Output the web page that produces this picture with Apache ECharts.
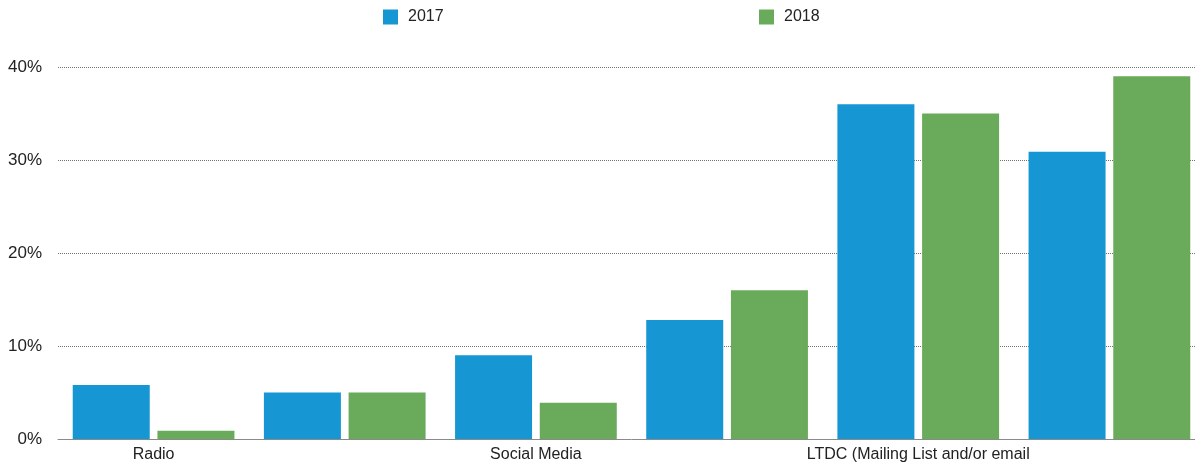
<!DOCTYPE html>
<html>
<head>
<meta charset="utf-8">
<script src="https://cdn.jsdelivr.net/npm/echarts@6/dist/echarts.min.js"></script>
<style>
  html, body { margin: 0; padding: 0; background: #ffffff; overflow: hidden; }
  /* the plot runs a little past the right edge of the window */
  #chart { width: 1205px; height: 467px; }
</style>
</head>
<body>
<div id="chart"></div>
<script>
// Channel labels along the x axis (only every other channel is labelled)
const categories = ['Radio', '', 'Social Media', '', 'LTDC (Mailing List and/or email', ''];
// Share of respondents per channel, in percent
const values2017 = [5.8, 5.0, 9.0, 12.8, 36.0, 30.9];
const values2018 = [0.9, 5.0, 3.9, 16.0, 35.0, 39.0];
const yTicks = { min: 0, max: 40, interval: 10 };

const FONT = '"Liberation Sans", Arial, Helvetica, sans-serif';
const BLUE = '#1796d4';
const GREEN = '#69ab5b';

const chart = echarts.init(document.getElementById('chart'), null, { renderer: 'canvas' });

const legendBase = {
  top: 9,
  padding: 0,
  icon: 'rect',
  itemWidth: 15,
  itemHeight: 15,
  textStyle: { fontFamily: FONT, fontSize: 16, color: '#222', padding: [0, 0, 0, 5] }
};

chart.setOption({
  animation: false,
  backgroundColor: '#ffffff',
  legend: [
    Object.assign({ left: 383, data: ['2017'] }, legendBase),
    Object.assign({ left: 759, data: ['2018'] }, legendBase)
  ],
  grid: { left: 58, top: 67, right: 0, bottom: 28, containLabel: false },
  xAxis: {
    type: 'category',
    data: categories,
    axisLine: { show: true, lineStyle: { color: '#8a8a8a', width: 1 } },
    axisTick: { show: false },
    axisLabel: {
      interval: 0,
      margin: 8,
      fontFamily: FONT,
      fontSize: 16,
      color: '#222'
    }
  },
  yAxis: {
    type: 'value',
    min: yTicks.min,
    max: yTicks.max,
    interval: yTicks.interval,
    axisLine: { show: false },
    axisTick: { show: false },
    axisLabel: {
      formatter: '{value}%',
      margin: 16,
      fontFamily: FONT,
      fontSize: 17,
      color: '#222'
    },
    splitLine: { show: true, lineStyle: { type: 'dotted', color: '#707070', width: 1 } }
  },
  series: [
    {
      name: '2017',
      type: 'bar',
      data: values2017,
      barWidth: 77,
      barGap: '10%',
      itemStyle: { color: BLUE }
    },
    {
      name: '2018',
      type: 'bar',
      data: values2018,
      barWidth: 77,
      barGap: '10%',
      itemStyle: { color: GREEN }
    }
  ]
});
</script>
</body>
</html>
